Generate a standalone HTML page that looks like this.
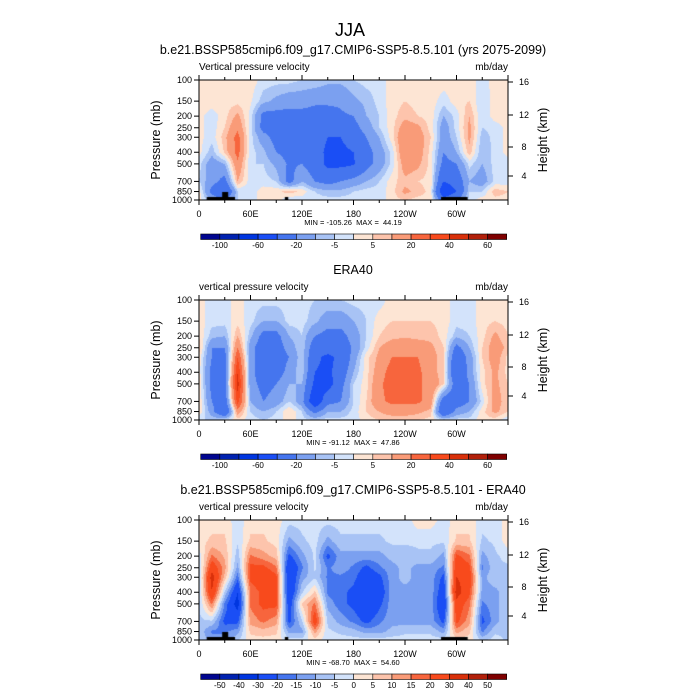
<!DOCTYPE html>
<html><head><meta charset="utf-8">
<style>
body{margin:0;background:#fff;}
#wrap{position:relative;width:700px;height:700px;font-family:"Liberation Sans",sans-serif;}
canvas{position:absolute;left:0;top:0;}
svg{position:absolute;left:0;top:0;}
text{white-space:pre;}
</style></head>
<body>
<div id="wrap">
<canvas id="cv" width="700" height="700"></canvas>
<svg id="sv" width="700" height="700"></svg>
</div>
<script>
const lons = [0,15,30,45,60,75,90,105,120,135,150,165,180,195,210,225,240,255,270,285,300,315,330,345,360];
const pres = [100,150,200,250,300,400,500,700,850,1000];
const yTickLabels = ["100","150","200","250","300","400","500","700","850","1000"];
const xTickLabels = ["0","60E","120E","180","120W","60W"];
const hTickLabels = ["16","12","8","4"];
const levelsA = [-100,-80,-60,-40,-20,-10,-5,0,5,10,20,30,40,50,60];
const levelsB = [-50,-40,-30,-20,-15,-10,-5,0,5,10,15,20,30,40,50];
const cbLabelsA = ["-100","-60","-20","-5","5","20","40","60"];
const cbLabelsB = ["-50","-40","-30","-20","-15","-10","-5","0","5","10","15","20","30","40","50"];
const colors = ["#00058f","#0022b0","#0036e0","#1a4ef5","#4575ee","#7ba0f0","#a8c3f5","#d3e3fb","#fde5d4","#fdc4ac","#f99b78","#f7653d","#f84a1c","#d9300a","#b2200a","#7f0000"];
const field1 = [
[3,3,2,2,2,2,-3,-5,3,3],[3,3,-3,-3,-3,-8,-15,-15,-25,-10],[3,3,3,5,8,6,-10,-25,-40,-20],
[3,3,12,18,24,24,18,10,-5,-5],[3,1,-2,-3,-3,-3,-5,-3,-3,-3],[-2,-8,-25,-25,-15,-8,-5,-3,3,3],
[-3,-12,-25,-25,-25,-20,-12,-5,3,3],[-3,-15,-25,-25,-25,-25,-22,-25,8,-5],[-5,-15,-25,-25,-25,-25,-20,-10,3,-3],
[-5,-18,-25,-25,-28,-30,-28,-20,-5,-3],[-8,-18,-25,-35,-40,-45,-45,-25,-8,-3],[-8,-18,-22,-30,-40,-45,-45,-20,-8,-3],
[-5,-12,-20,-25,-30,-40,-42,-15,-5,-3],[-3,-8,-10,-15,-20,-25,-25,-10,-3,-3],[-3,-3,-5,-5,-10,-15,-15,-5,-3,-3],
[3,3,3,3,3,-3,-3,3,3,3],[3,5,8,15,20,20,15,8,12,5],[3,3,5,12,15,15,12,5,8,3],
[3,3,3,3,5,3,3,3,3,3],[3,-3,-10,-15,-15,-20,-25,-40,-60,-30],[3,3,-3,-3,-5,-10,-20,-30,-40,-20],
[3,5,10,12,12,8,-3,-10,-5,-3],[-3,-5,-5,-5,-8,-10,-10,-15,-5,3],[3,3,3,-3,-3,-3,-3,-3,8,3],
[3,3,2,2,2,2,-3,-3,5,3]];
const field2 = [
[3,3,5,8,3,3,5,5,5,-5],[-3,-3,-8,-20,-20,-25,-25,-20,-15,-5],[-3,-3,-10,-20,-25,-25,-25,-30,-40,-3],
[3,3,10,20,30,40,45,35,15,3],[-3,-3,-8,-15,-15,-15,-15,-10,-5,-3],[-3,-10,-25,-30,-30,-30,-25,-20,-10,-5],
[-3,-10,-25,-28,-28,-28,-20,-15,-5,-3],[-3,-3,-10,-15,-20,-15,-10,-5,5,3],[-3,-3,-5,-5,-5,-5,-10,-15,-5,-3],
[-5,-8,-20,-30,-35,-40,-45,-60,-25,-5],[-5,-15,-25,-30,-45,-45,-50,-25,-10,-3],[-5,-15,-25,-30,-35,-30,-25,-20,-10,-3],
[-3,-10,-15,-18,-15,-10,-5,-5,-3,-3],[-3,-5,-5,-3,3,3,3,5,5,3],[-3,3,5,10,12,15,18,18,10,5],
[3,5,8,15,20,25,25,22,15,5],[3,5,8,20,20,25,25,22,15,5],[3,5,8,15,20,22,20,22,12,5],
[3,5,8,12,15,15,20,15,8,3],[3,3,3,5,5,5,5,-30,-40,-3],[-3,-3,-8,-25,-35,-40,-30,-30,-15,-3],
[-3,-3,-5,-10,-15,-15,-20,-20,-10,-3],[3,3,3,5,5,3,3,-3,3,3],[3,5,12,15,15,12,12,15,12,3],
[3,3,5,8,3,3,5,5,5,-5]];
const field3 = [
[3,3,-3,-6,-6,-6,-6,-6,-6,-6],[3,6,16,26,35,30,16,-6,-16,-12],[3,6,9,12,8,-6,-16,-22,-16,-12],
[-3,-4,-8,-12,-18,-30,-35,-22,-12,-6],[3,6,16,22,22,16,16,12,6,3],[3,6,12,22,26,22,22,16,8,3],
[3,3,8,16,22,22,22,12,6,3],[-3,-12,-22,-30,-30,-30,-26,-22,-12,-3],[-3,-6,-12,-16,-12,-6,6,-6,-12,-3],
[-3,-3,-4,-4,-6,6,16,26,12,3],[-3,-12,-22,-16,-16,-16,-12,-6,-4,-3],[-3,-6,-12,-12,-16,-18,-18,-12,-6,-3],
[-3,-6,-12,-16,-18,-22,-22,-16,-8,-3],[-3,-6,-12,-22,-26,-30,-30,-22,-12,-3],[-3,-6,-12,-16,-22,-26,-22,-16,-12,-3],
[-3,-4,-8,-12,-12,-12,-12,-12,-8,-3],[-3,-4,-8,-8,-8,-12,-12,-12,-6,-3],[3,-4,-6,-12,-12,-12,-12,-12,-6,-3],
[3,-4,-6,-12,-12,-12,-12,-12,-6,-3],[-3,-4,-12,-16,-22,-26,-30,-22,-12,-3],[3,6,22,26,30,35,26,22,12,3],
[3,6,16,22,26,22,16,12,6,3],[-3,-6,-12,-16,-12,-12,-16,-22,-16,-6],[-3,-4,-6,-6,-6,-12,-12,-12,-6,-3],
[3,3,-3,-6,-6,-6,-6,-6,-6,-6]];
const panels = [
 {top:80, field:field1, levels:levelsA, cb:cbLabelsA, title:"b.e21.BSSP585cmip6.f09_g17.CMIP6-SSP5-8.5.101 (yrs 2075-2099)", left:"Vertical pressure velocity", mm:"MIN = -105.26  MAX =  44.19", land:true},
 {top:300, field:field2, levels:levelsA, cb:cbLabelsA, title:"ERA40", left:"vertical pressure velocity", mm:"MIN = -91.12  MAX =  47.86", land:false},
 {top:520, field:field3, levels:levelsB, cb:cbLabelsB, title:"b.e21.BSSP585cmip6.f09_g17.CMIP6-SSP5-8.5.101 - ERA40", left:"vertical pressure velocity", mm:"MIN = -68.70  MAX =  54.60", land:true}];
const X0=199, X1=508, PH=120;
const xs = lon => X0 + (lon/360)*(X1-X0);
const ys = (p,top) => top + Math.log10(p/100)*PH;
const ctx = document.getElementById('cv').getContext('2d');
const sv = document.getElementById('sv');
const NS="http://www.w3.org/2000/svg";
function mk(tag, attrs, name, txt){
  const e=document.createElementNS(NS,tag);
  for(const k in attrs) e.setAttribute(k,attrs[k]);
  
  
  if(txt!==undefined) e.textContent=txt;
  sv.appendChild(e); return e;
}
function colorFor(v,levels){v+=1e-6;let i=0;while(i<levels.length && v>=levels[i]) i++;return colors[i];}
function sample(field,lonv,yp,top){
  let i=Math.min(lons.length-2,Math.floor(lonv/15));
  const tx=(lonv-lons[i])/15;
  const py=pres.map(p=>ys(p,top));
  let j=0; while(j<pres.length-2 && yp>py[j+1]) j++;
  let ty=(yp-py[j])/(py[j+1]-py[j]); ty=Math.max(0,Math.min(1,ty));
  const a=field[i][j],b=field[i+1][j],c=field[i][j+1],d=field[i+1][j+1];
  return (a*(1-tx)+b*tx)*(1-ty)+(c*(1-tx)+d*tx)*ty;
}
mk('text',{x:350,y:36,'font-size':18,'text-anchor':'middle'},'figure-title','JJA');
panels.forEach((P,k)=>{
  const top=P.top;
  for(let px=X0;px<X1;px++){
    const lonv=(px+0.5-X0)/(X1-X0)*360;
    for(let py=top;py<top+PH;py++){
      ctx.fillStyle=colorFor(sample(P.field,lonv,py+0.5,top),P.levels);
      ctx.fillRect(px,py,1,1);
    }
  }
  if(P.land){
    ctx.fillStyle='#000';
    ctx.fillRect(xs(9),top+PH-3,xs(42)-xs(9),3);
    ctx.fillRect(xs(27),top+PH-8,xs(34)-xs(27),8);
    ctx.fillRect(xs(100),top+PH-3,xs(104)-xs(100),3);
    ctx.fillRect(xs(282),top+PH-3,xs(313)-xs(282),3);
  }
  mk('rect',{x:X0,y:top,width:X1-X0,height:PH,fill:'none',stroke:'#000','stroke-width':1},'plot-frame-'+k);
  mk('text',{x:353,y:top-26,'font-size':12.5,'text-anchor':'middle'},'panel-title-'+k,P.title);
  mk('text',{x:X0,y:top-10,'font-size':10},'variable-label-'+k,P.left);
  mk('text',{x:X1,y:top-10,'font-size':10,'text-anchor':'end'},'units-label-'+k,'mb/day');
  pres.forEach((p,i)=>{
    const y=ys(p,top);
    mk('line',{x1:X0-5,x2:X0,y1:y,y2:y,stroke:'#000'},'y-tick');
    mk('text',{x:X0-7,y:y+3,'font-size':9,'text-anchor':'end'},'y-tick-label',yTickLabels[i]);
  });
  const hy=[2,35,67,96];
  hTickLabels.forEach((h,i)=>{
    const y=top+hy[i];
    mk('line',{x1:X1,x2:X1+5,y1:y,y2:y,stroke:'#000'},'height-tick');
    mk('text',{x:X1+16,y:y+3,'font-size':9,'text-anchor':'middle'},'height-tick-label',h);
  });
  for(let l=0;l<=360;l+=30){
    const x=xs(l),len=l%60===0?5:3;
    mk('line',{x1:x,x2:x,y1:top+PH,y2:top+PH+len,stroke:'#000'},'x-tick');
    mk('line',{x1:x,x2:x,y1:top,y2:top-len,stroke:'#000'},'x-tick-top');
  }
  xTickLabels.forEach((t,i)=>{
    mk('text',{x:xs(i*60),y:top+PH+17,'font-size':9,'text-anchor':'middle'},'x-tick-label',t);
  });
  mk('text',{x:0,y:0,'font-size':12.5,'text-anchor':'middle',transform:`translate(160,${top+60}) rotate(-90)`},'y-axis-title-'+k,'Pressure (mb)');
  mk('text',{x:0,y:0,'font-size':12.5,'text-anchor':'middle',transform:`translate(547,${top+60}) rotate(-90)`},'height-axis-title-'+k,'Height (km)');
  mk('text',{x:353,y:top+PH+25,'font-size':7.5,'text-anchor':'middle'},'min-max-label-'+k,P.mm);
  const cbx=200.7,cbw=306,cby=top+154,cw=cbw/16;
  colors.forEach((c,i)=>{
    mk('rect',{x:cbx+i*cw,y:cby,width:cw,height:5.5,fill:c,stroke:'#000','stroke-width':0.6},'colorbar-box');
  });
  const step=P.cb.length===8?2:1;
  P.cb.forEach((t,i)=>{
    const bi=step===2?1+2*i:1+i;
    mk('text',{x:cbx+bi*cw,y:cby+14,'font-size':8,'text-anchor':'middle'},'colorbar-label',t);
  });
});
</script>
</body></html>
